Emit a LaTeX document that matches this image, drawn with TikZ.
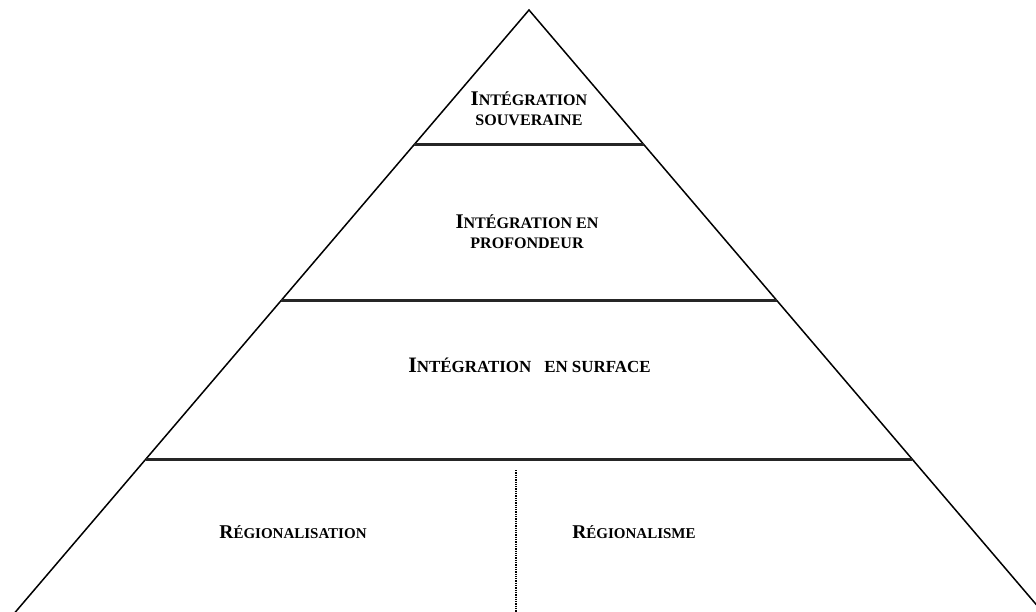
\documentclass[tikz,border=0pt]{standalone}
\usepackage{fontspec}
\setmainfont{Liberation Serif}
\newcommand{\fsc}[3][1]{{\fontsize{\fpeval{19.5*#1}}{20}\selectfont #2}{\fontsize{\fpeval{15*#1}}{20}\selectfont #3}}
\begin{document}
\begin{tikzpicture}[x=1pt,y=-1pt,
  edge/.style={line width=1.5pt,black},
  tier/.style={line width=3pt,black!85},
  lbl/.style={font=\bfseries\fontsize{19.5}{20}\selectfont,align=center,inner sep=0pt}]
\useasboundingbox (0,0) rectangle (1036,612);
\clip (0,0) rectangle (1036,612);
\coordinate (apex) at (529,10);
\coordinate (bl) at (-17,650);
\coordinate (br) at (1075,650);
\draw[edge] (bl) -- (apex) -- (br);
\coordinate (a1) at (413.8,145); \coordinate (b1) at (644.2,145);
\coordinate (a2) at (280.8,301); \coordinate (b2) at (777.2,301);
\coordinate (a3) at (146,459);   \coordinate (b3) at (912,459);
\draw[tier] (a1) -- (b1);
\draw[tier] (a2) -- (b2);
\draw[tier] (a3) -- (b3);
\coordinate (d1) at (516,470); \coordinate (d2) at (516,612);
\draw[densely dotted,line width=1.3pt] (d1) -- (d2);
\node[lbl] (t1) at (529,109) {\fsc[1.07]{I}{NTÉGRATION}\\\fsc[1.07]{}{SOUVERAINE}};
\node[lbl] (t2) at (527,232) {\fsc[1.07]{I}{NTÉGRATION EN}\\\fsc[1.07]{}{PROFONDEUR}};
\node[lbl] (t3) at (529.5,365) {\fsc[1.13]{I}{NTÉGRATION}\hspace{13pt}\fsc[1.13]{}{EN\hspace{4pt}SURFACE}};
\node[lbl] (t4) at (293,532) {\fsc{R}{ÉGIONALISATION}};
\node[lbl] (t5) at (634,532) {\fsc{R}{ÉGIONALISME}};
\end{tikzpicture}
\end{document}
